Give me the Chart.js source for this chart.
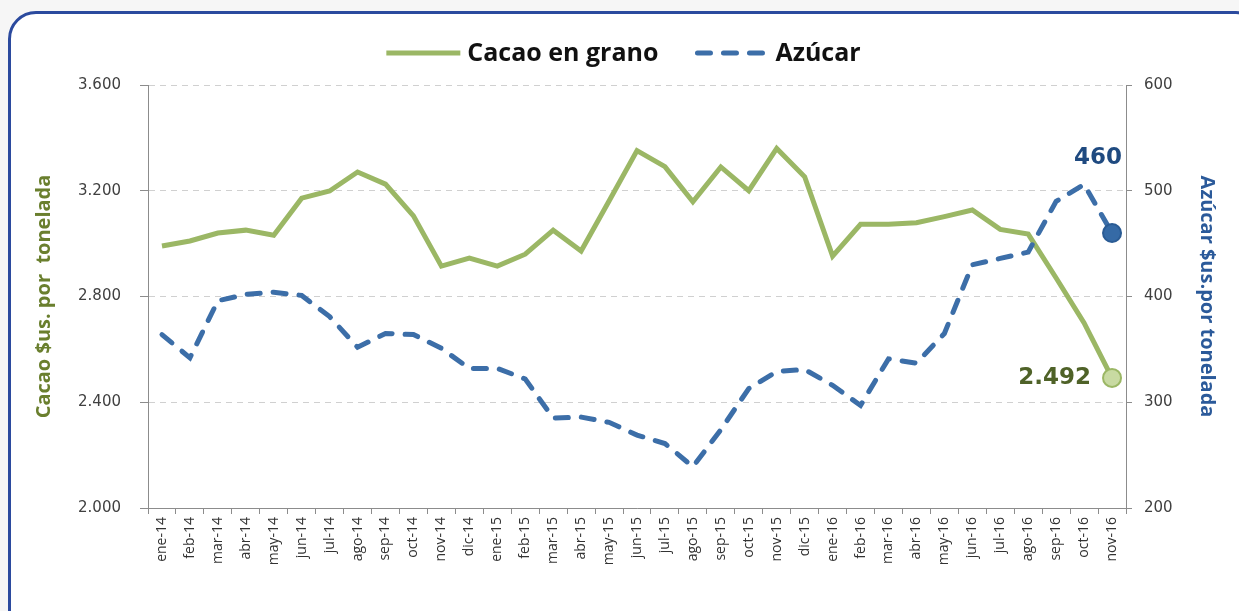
<!DOCTYPE html>
<html>
<head>
<meta charset="utf-8">
<script src="https://cdn.jsdelivr.net/npm/chart.js@4.4.0/dist/chart.umd.min.js"></script>
<style>
    html, body { margin: 0; padding: 0; background: #f6f6f6; overflow: hidden; }
    #marco {
        position: absolute; left: 8px; top: 11px; width: 1250px; height: 630px;
        border: 3px solid #2b4a9e; border-radius: 28px; background: #ffffff;
    }
    #contenedor { position: absolute; left: 0; top: 0; width: 1239px; height: 611px; }
</style>
</head>
<body>
<div id="marco"></div>
<div id="contenedor"><canvas id="preciosChart"></canvas></div>
<script>
// Datos
const meses = ['ene-14', 'feb-14', 'mar-14', 'abr-14', 'may-14', 'jun-14', 'jul-14', 'ago-14', 'sep-14', 'oct-14', 'nov-14', 'dic-14',
    'ene-15', 'feb-15', 'mar-15', 'abr-15', 'may-15', 'jun-15', 'jul-15', 'ago-15', 'sep-15', 'oct-15', 'nov-15', 'dic-15',
    'ene-16', 'feb-16', 'mar-16', 'abr-16', 'may-16', 'jun-16', 'jul-16', 'ago-16', 'sep-16', 'oct-16', 'nov-16'];
const cacao = [2991, 3010, 3040, 3051, 3032, 3172, 3199, 3271, 3225, 3105, 2915, 2945,
    2915, 2960, 3051, 2972, 3161, 3352, 3291, 3158, 3290, 3200, 3360, 3253,
    2953, 3073, 3073, 3079, 3102, 3127, 3054, 3036, 2870, 2700, 2492];
const azucar = [364, 342, 396, 402, 404, 401, 381, 352, 365, 364, 351, 332,
    332, 322, 285, 286, 281, 269, 261, 239, 274, 313, 329, 331,
    316, 297, 341, 337, 365, 430, 436, 442, 490, 506, 460];
const ticksCacao = [2000, 2400, 2800, 3200, 3600];
const ticksAzucar = [200, 300, 400, 500, 600];

const VERDE = '#9bb765';
const AZUL = '#3c6ea8';
const ultimo = meses.length - 1;

// separador de miles con punto
function formato(v) {
    return String(v).replace(/\B(?=(\d{3})+(?!\d))/g, '.');
}

// Leyenda dibujada a mano (línea continua y línea discontinua)
const leyenda = {
    id: 'leyenda',
    afterDraw(chart) {
        const ctx = chart.ctx;
        const items = [
            { texto: 'Cacao en grano', color: VERDE, dash: [] },
            { texto: 'Azúcar', color: AZUL, dash: [13, 13] }
        ];
        ctx.save();
        ctx.font = 'bold 25px "Open Sans"';
        ctx.textBaseline = 'middle';
        const muestra = 74, hueco = 7, sep = 36;
        let total = 0;
        items.forEach((it, i) => {
            it.w = ctx.measureText(it.texto).width;
            total += muestra + hueco + it.w + (i ? sep : 0);
        });
        let x = chart.width / 2 + 4 - total / 2;
        const y = 53;
        items.forEach((it) => {
            ctx.strokeStyle = it.color;
            ctx.lineWidth = 5;
            ctx.lineCap = it.dash.length ? 'round' : 'butt';
            ctx.setLineDash(it.dash);
            ctx.beginPath();
            ctx.moveTo(x + (it.dash.length ? 3 : 0), y);
            ctx.lineTo(x + muestra, y);
            ctx.stroke();
            ctx.setLineDash([]);
            ctx.fillStyle = '#111111';
            ctx.fillText(it.texto, x + muestra + hueco, y + 1);
            x += muestra + hueco + it.w + sep;
        });
        ctx.restore();
    }
};

// Etiquetas del último dato
const etiquetas = {
    id: 'etiquetas',
    afterDatasetsDraw(chart) {
        const ctx = chart.ctx;
        ctx.save();
        ctx.font = 'bold 23px "DejaVu Sans"';
        ctx.textBaseline = 'middle';

        const pC = chart.getDatasetMeta(0).data[ultimo];
        ctx.fillStyle = '#4f6228';
        ctx.textAlign = 'right';
        ctx.fillText(formato(cacao[ultimo]), pC.x - 21, pC.y);

        const pA = chart.getDatasetMeta(1).data[ultimo];
        ctx.fillStyle = '#1f4a80';
        ctx.textAlign = 'center';
        ctx.fillText(formato(azucar[ultimo]), pA.x - 14, pA.y - 75);
        ctx.restore();
    }
};

const ejeColor = '#8c8c8c';
const ctxPrecios = document.getElementById('preciosChart').getContext('2d');
const preciosChart = new Chart(ctxPrecios, {
    type: 'line',
    data: {
        labels: meses,
        datasets: [
            {
                label: 'Cacao en grano',
                data: cacao,
                yAxisID: 'y',
                borderColor: VERDE,
                borderWidth: 5,
                tension: 0,
                order: 1,
                pointRadius: (c) => c.dataIndex === ultimo ? 9 : 0,
                pointBackgroundColor: '#c8daa2',
                pointBorderColor: VERDE,
                pointBorderWidth: 2
            },
            {
                label: 'Azúcar',
                data: azucar,
                yAxisID: 'y2',
                borderColor: AZUL,
                borderWidth: 5,
                borderDash: [13, 13],
                borderCapStyle: 'round',
                tension: 0,
                order: 0,
                pointRadius: (c) => c.dataIndex === ultimo ? 9 : 0,
                pointBackgroundColor: '#356aa6',
                pointBorderColor: '#2a5b94',
                pointBorderWidth: 2
            }
        ]
    },
    options: {
        responsive: true,
        maintainAspectRatio: false,
        animation: false,
        layout: { padding: { top: 85, left: 0, right: 0, bottom: 0 } },
        plugins: {
            legend: { display: false },
            tooltip: { enabled: false }
        },
        scales: {
            x: {
                offset: true,
                grid: { offset: true, drawOnChartArea: false, tickLength: 6, color: ejeColor },
                border: { color: ejeColor },
                ticks: {
                    autoSkip: false,
                    maxRotation: 90,
                    minRotation: 90,
                    padding: 3,
                    color: '#333333',
                    font: { family: 'Open Sans', size: 14 }
                },
                afterFit: (s) => { s.height = 103; }
            },
            y: {
                position: 'left',
                min: 2000,
                max: 3600,
                afterBuildTicks: (s) => { s.ticks = ticksCacao.map(v => ({ value: v })); },
                grid: { color: '#d0d0d0', tickColor: ejeColor, tickLength: 8, tickBorderDash: [] },
                border: { color: ejeColor, dash: [6, 5] },
                ticks: {
                    padding: 19,
                    color: '#404040',
                    font: { family: 'DejaVu Sans', size: 15 },
                    callback: (v) => formato(v)
                },
                title: {
                    display: true,
                    text: 'Cacao $us. por  tonelada',
                    color: '#6a7f2e',
                    font: { family: 'Open Sans', size: 20, weight: 'bold' },
                    padding: { top: 32, bottom: 0 }
                },
                afterFit: (s) => { s.width = 148; }
            },
            y2: {
                position: 'right',
                min: 200,
                max: 600,
                afterBuildTicks: (s) => { s.ticks = ticksAzucar.map(v => ({ value: v })); },
                grid: { drawOnChartArea: false, color: ejeColor, tickLength: 6 },
                border: { color: ejeColor },
                ticks: {
                    padding: 12,
                    color: '#404040',
                    font: { family: 'DejaVu Sans', size: 15 }
                },
                title: {
                    display: true,
                    text: 'Azúcar $us.por tonelada',
                    color: '#2b5a9a',
                    font: { family: 'Open Sans', size: 20, weight: 'bold' },
                    padding: { top: 20, bottom: 0 }
                },
                afterFit: (s) => { s.width = 113; }
            }
        }
    },
    plugins: [leyenda, etiquetas]
});
</script>
</body>
</html>
